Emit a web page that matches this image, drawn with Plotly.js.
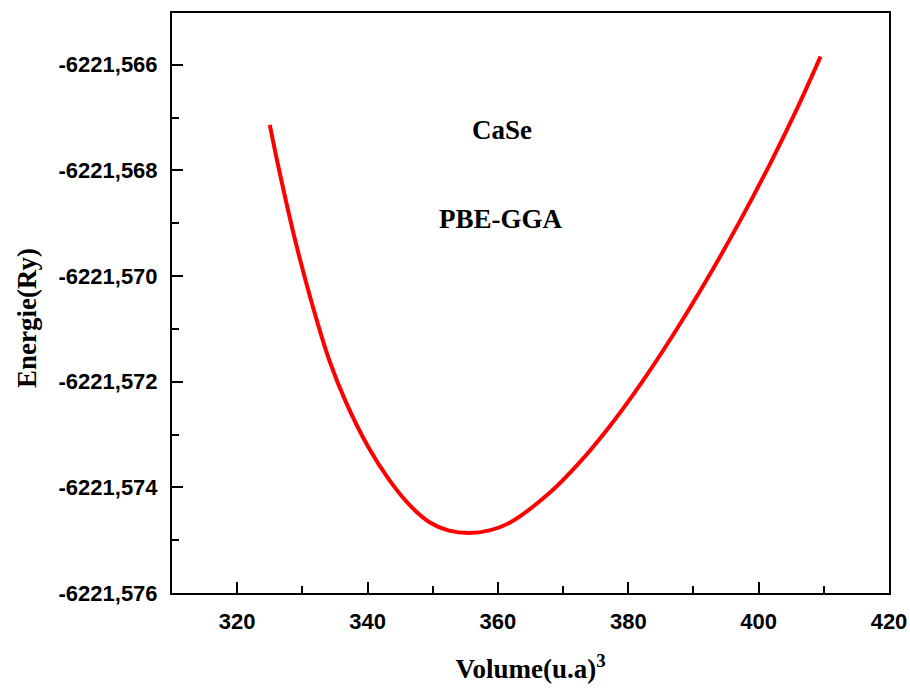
<!DOCTYPE html>
<html>
<head>
<meta charset="utf-8">
<script src="https://cdn.plot.ly/plotly-3.0.1.min.js"></script>
<style>html,body{margin:0;padding:0;background:#fff;}#chart{width:910px;height:689px;}</style>
</head>
<body>
<div id="chart"></div>
<script>
const volume = [325.0, 326.5, 329.0, 331.6, 334.1, 336.7, 340.2, 343.3, 346.4, 349.5, 352.5, 355.6, 358.7, 361.8, 367.9, 372.5, 377.1, 381.7, 386.8, 391.9, 397.1, 402.2, 405.8, 409.5];
const energy = [-6221.567136, -6221.568030, -6221.569375, -6221.570575, -6221.571584, -6221.572390, -6221.573255, -6221.573855, -6221.574329, -6221.574660, -6221.574820, -6221.574865, -6221.574815, -6221.574670, -6221.574107, -6221.573532, -6221.572851, -6221.572078, -6221.571129, -6221.570099, -6221.568965, -6221.567766, -6221.566855, -6221.565845];
const yTickVals = [-6221.576, -6221.574, -6221.572, -6221.570, -6221.568, -6221.566];
const yTickLabels = ["-6221,576", "-6221,574", "-6221,572", "-6221,570", "-6221,568", "-6221,566"];
const xTickVals = [320, 340, 360, 380, 400, 420];
const xTickLabels = ["320", "340", "360", "380", "400", "420"];

const tickFont = {family: "Liberation Sans, Arial, sans-serif", size: 22, color: "#000", weight: "bold"};
const serifFont = {family: "Liberation Serif, Times New Roman, serif", size: 27, color: "#000", weight: "bold"};

const trace = {
  x: volume, y: energy, type: "scatter", mode: "lines",
  line: {color: "#ff0000", width: 4, shape: "spline", smoothing: 1},
  hoverinfo: "x+y"
};

const layout = {
  width: 910, height: 689,
  margin: {l: 172, r: 21, t: 13, b: 96, pad: 0},
  paper_bgcolor: "#fff", plot_bgcolor: "#fff",
  showlegend: false,
  xaxis: {
    range: [310, 420],
    tickmode: "array", tickvals: xTickVals, ticktext: xTickLabels,
    ticks: "inside", ticklen: 11, tickwidth: 2, tickcolor: "#000",
    minor: {dtick: 10, tick0: 310, ticks: "inside", ticklen: 7, tickwidth: 2, tickcolor: "#000"},
    showline: true, linecolor: "#000", linewidth: 2, mirror: true,
    showgrid: false, zeroline: false,
    tickfont: tickFont, ticklabelstandoff: 8,
    title: {text: "Volume(u.a)<sup>3</sup>", font: serifFont, standoff: 26}
  },
  yaxis: {
    range: [-6221.576, -6221.56502],
    tickmode: "array", tickvals: yTickVals, ticktext: yTickLabels,
    ticks: "inside", ticklen: 11, tickwidth: 2, tickcolor: "#000",
    minor: {dtick: 0.001, tick0: -6221.576, ticks: "inside", ticklen: 7, tickwidth: 2, tickcolor: "#000"},
    showline: true, linecolor: "#000", linewidth: 2, mirror: true,
    showgrid: false, zeroline: false,
    tickfont: tickFont, ticklabelstandoff: 8
  },
  annotations: [
    {text: "CaSe", x: 360.7, y: -6221.56723, xref: "x", yref: "y", showarrow: false, font: serifFont, xanchor: "center", yanchor: "middle"},
    {text: "PBE-GGA", x: 360.4, y: -6221.56892, xref: "x", yref: "y", showarrow: false, font: serifFont, xanchor: "center", yanchor: "middle"},
    {text: "Energie(Ry)", x: -0.2022, y: 0.474, xref: "paper", yref: "paper", showarrow: false, textangle: -90, font: serifFont, xanchor: "center", yanchor: "middle"}
  ]
};

Plotly.newPlot("chart", [trace], layout, {displayModeBar: false, staticPlot: true});
</script>
</body>
</html>
